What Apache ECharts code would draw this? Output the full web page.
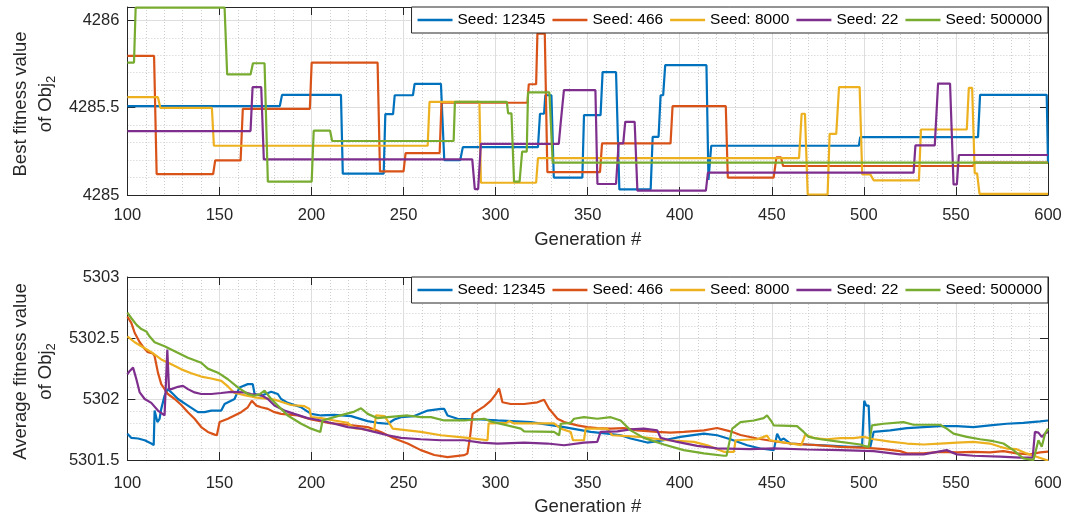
<!DOCTYPE html>
<html><head><meta charset="utf-8">
<script src="https://cdn.jsdelivr.net/npm/echarts@6/dist/echarts.min.js"></script>
<style>html,body{margin:0;padding:0;background:#fff}#c{width:1065px;height:517px}</style>
</head><body><div id="c"></div>
<script>
const seedNames = ['Seed: 12345', 'Seed: 466', 'Seed: 8000', 'Seed: 22', 'Seed: 500000'];
const genMin = 100, genMax = 600, genStep = 50;

// ---- Best fitness value of Obj2 (top panel) ----
const best12345Gen = [100,182.8,184,216,217,239.2,240.1,244.3,245.2,255.1,256,270.3,272.1,280.8,282.2,323,324.1,326.3,327,330.3,331.6,347.1,348,357,358.1,365.4,367.2,384.2,385.3,388.5,389.6,391,392.1,414.5,415.6,416.3,417.1,497.3,498,562,563.1,599.3,600];
const best12345Val = [4285.509,4285.509,4285.573,4285.573,4285.122,4285.122,4285.463,4285.463,4285.571,4285.571,4285.636,4285.636,4285.2,4285.2,4285.274,4285.274,4285.465,4285.465,4285.571,4285.571,4285.1,4285.1,4285.457,4285.457,4285.703,4285.703,4285.032,4285.032,4285.333,4285.333,4285.571,4285.571,4285.743,4285.743,4285.086,4285.086,4285.282,4285.282,4285.331,4285.331,4285.573,4285.573,4285.185];

const best466Gen = [100,114.5,115.9,146.6,147.7,161.5,162.7,199.1,200.1,235.9,237.2,250,251.1,269.6,270.6,317.3,318,322,322.7,326.7,328.1,356.7,357.8,395,396.1,425,426.1,451,452.5,455,456.1,559.2,560.5,600];
const best466Val = [4285.796,4285.796,4285.12,4285.12,4285.198,4285.198,4285.493,4285.493,4285.758,4285.758,4285.135,4285.135,4285.24,4285.24,4285.528,4285.528,4285.634,4285.634,4285.924,4285.924,4285.131,4285.131,4285.295,4285.295,4285.509,4285.509,4285.099,4285.099,4285.215,4285.215,4285.166,4285.166,4285.185,4285.185];

const best8000Gen = [100,116.6,117.9,145.9,147,263.1,264.1,291.2,292,322,323,464.8,466.2,468,469.5,480.3,481.4,485,486.5,497.7,499.1,503.5,505.3,529.9,531,555.9,557,558.8,560.2,561.5,562.8,600];
const best8000Val = [4285.56,4285.56,4285.499,4285.499,4285.282,4285.282,4285.533,4285.533,4285.07,4285.07,4285.211,4285.211,4285.465,4285.465,4285.003,4285.003,4285.35,4285.35,4285.617,4285.617,4285.118,4285.118,4285.084,4285.084,4285.375,4285.375,4285.613,4285.613,4285.124,4285.124,4285.006,4285.006];

const best22Gen = [100,166.9,168,172.7,174.1,287.3,288.7,290.5,292,334.3,335.4,336,337.1,354.2,355.3,365.4,366.8,369.3,370.4,375.5,377,414.2,415.3,527,528,538.5,540.3,546.8,548.7,550.5,551.6,600];
const best22Val = [4285.366,4285.366,4285.617,4285.617,4285.204,4285.204,4285.034,4285.034,4285.293,4285.293,4285.419,4285.419,4285.6,4285.6,4285.063,4285.063,4285.295,4285.295,4285.419,4285.419,4285.025,4285.025,4285.128,4285.128,4285.284,4285.284,4285.638,4285.638,4285.061,4285.061,4285.229,4285.229];

const best500000Gen = [100,103.6,104.5,152.8,154.2,166.9,168.2,174.5,176.3,200.1,201.2,210.1,211.2,277.2,277.9,306.1,306.8,308.6,310,313,314.4,316.9,317.6,329.2,331,600];
const best500000Val = [4285.758,4285.758,4286.072,4286.072,4285.69,4285.69,4285.754,4285.754,4285.076,4285.076,4285.368,4285.368,4285.309,4285.309,4285.533,4285.533,4285.467,4285.467,4285.076,4285.076,4285.248,4285.248,4285.587,4285.587,4285.185,4285.185];

// ---- Average fitness value of Obj2 (bottom panel) ----
const avg12345Gen = [100,102.2,105.8,109.4,113,114.3,114.8,116.3,117.5,118.4,120.2,122,124.8,127.5,132.9,138.3,141.9,145.6,151,152.8,158.2,160.9,165.4,168.1,169.1,172.7,178.1,181.7,183.5,187.1,194.4,199.8,205.2,212.4,221.5,230.5,235.9,241.4,245,248.6,255.8,263.1,270.3,272.1,273.9,279.3,292,301,319.1,337.2,351.6,360.7,367.9,373.3,382.4,391.4,400.4,413.1,420.3,427.5,436.6,443.8,451.1,452.9,454.7,456.5,460.1,469.1,483.6,492.6,499,500.2,501.3,502.6,503.5,505.3,514.3,523.4,532.4,541.4,550.5,559.5,568.5,577.6,586.6,595.7,600];
const avg12345Val = [5301.716,5301.681,5301.676,5301.662,5301.635,5301.622,5301.905,5301.811,5301.838,5301.919,5302.027,5302.081,5302.041,5302.0,5301.946,5301.892,5301.892,5301.905,5301.905,5301.959,5302.0,5302.095,5302.122,5302.122,5302.041,5302.027,5302.059,5302.041,5302.0,5301.968,5301.932,5301.878,5301.865,5301.87,5301.86,5301.819,5301.805,5301.797,5301.832,5301.851,5301.86,5301.905,5301.919,5301.919,5301.865,5301.838,5301.832,5301.824,5301.811,5301.77,5301.73,5301.716,5301.703,5301.676,5301.643,5301.662,5301.689,5301.716,5301.703,5301.67,5301.621,5301.594,5301.581,5301.716,5301.662,5301.676,5301.635,5301.627,5301.616,5301.608,5301.608,5301.986,5301.946,5301.946,5301.608,5301.73,5301.743,5301.762,5301.77,5301.778,5301.778,5301.77,5301.784,5301.797,5301.805,5301.816,5301.824];

const avg466Gen = [100,102.2,104,106.7,109.4,111.2,113.9,114.8,116.6,118.4,122,125.7,129.3,132.9,136.5,140.1,143.7,147.4,148.6,150.1,154.6,158.2,161.8,165.4,167.6,168.5,170,172.7,176.3,179.9,183.5,192.6,199.8,208.8,219.7,230.5,237.7,245,252.2,259.4,266.7,273.9,283,284.7,286.2,287.5,293.8,297.4,300.1,301.9,303.7,308.2,315.5,322.7,326.3,329,333.6,337.2,344.4,349.8,355.2,362.5,369.7,376.9,387.8,395,402.2,413.1,420.3,427.5,433,442,451.1,460.1,469.1,480,487.2,501.7,510.7,519.7,523.4,532.4,541.4,550.5,559.5,568.5,575.8,583,590.2,595.7,600];
const avg466Val = [5302.676,5302.622,5302.541,5302.465,5302.411,5302.384,5302.373,5302.351,5302.216,5302.122,5302.041,5302.0,5301.951,5301.892,5301.838,5301.77,5301.73,5301.708,5301.703,5301.811,5301.838,5301.865,5301.892,5301.932,5301.986,5302.0,5301.946,5301.932,5301.919,5301.892,5301.878,5301.865,5301.832,5301.805,5301.789,5301.77,5301.73,5301.676,5301.635,5301.581,5301.541,5301.524,5301.54,5301.554,5301.7,5301.878,5301.94,5301.986,5302.04,5302.086,5301.973,5301.959,5301.959,5301.973,5301.994,5301.92,5301.838,5301.811,5301.784,5301.77,5301.762,5301.757,5301.762,5301.743,5301.73,5301.724,5301.73,5301.743,5301.762,5301.735,5301.705,5301.676,5301.654,5301.635,5301.627,5301.616,5301.608,5301.6,5301.589,5301.573,5301.554,5301.554,5301.567,5301.562,5301.567,5301.562,5301.573,5301.554,5301.546,5301.562,5301.568];

const avg8000Gen = [100,104,107.6,113,118.4,123.9,129.3,134.7,140.1,145.6,151,154.6,158.2,160.9,163.6,169,174.5,179.9,183.5,188.9,196.2,198.9,199.8,205.2,212.4,219.7,223.3,232.3,234.1,235,239.6,242.3,244.1,252.2,259.4,270.3,284.8,295.6,296.2,306,307.3,310,331.7,335.4,340.8,342,348,348.9,360.6,363.3,378.7,393.2,407.7,415,424,429.4,430.3,442,447.4,449,460.1,466,468.2,472.7,480,487.2,494.4,499.9,505.3,514.3,523.4,532.4,541.4,550.5,559.5,568.5,574,577.6,583,588.4,593.8,600];
const avg8000Val = [5302.514,5302.465,5302.432,5302.384,5302.324,5302.284,5302.243,5302.211,5302.184,5302.168,5302.149,5302.103,5302.049,5302.041,5302.032,5302.014,5302.005,5301.995,5301.978,5301.951,5301.941,5301.919,5301.851,5301.843,5301.824,5301.805,5301.76,5301.745,5301.75,5301.865,5301.86,5301.8,5301.757,5301.743,5301.73,5301.703,5301.681,5301.662,5301.8,5301.805,5301.819,5301.8,5301.8,5301.757,5301.73,5301.662,5301.662,5301.757,5301.757,5301.703,5301.689,5301.662,5301.649,5301.62,5301.567,5301.567,5301.662,5301.67,5301.7,5301.662,5301.635,5301.622,5301.708,5301.68,5301.67,5301.68,5301.68,5301.689,5301.67,5301.65,5301.635,5301.627,5301.635,5301.643,5301.648,5301.635,5301.608,5301.594,5301.589,5301.554,5301.527,5301.495];

const avg22Gen = [100,101.3,103.1,104.9,106.7,109.4,113,116.6,120.2,121.1,121.7,122.6,123.9,127.5,130.2,132.9,136.5,140.1,145.6,151,156.4,163.6,167.2,172.7,176.3,179.9,185.3,190.7,197.9,205.2,212.4,219.7,226.9,234.1,241.4,248.6,259.4,270.3,283,292,301,315.5,328.1,337.2,348,355.2,357,366.1,373.3,380.5,387.8,389.6,398.6,409.5,420.3,438.4,451.1,469.1,487.2,505.3,519.7,532.4,545,550.5,559.5,574,584.8,591.7,592.9,594.8,596.6,598.4,600];
const avg22Val = [5302.203,5302.23,5302.257,5302.162,5302.054,5302.0,5301.968,5301.905,5301.865,5301.865,5302.405,5302.081,5302.081,5302.1,5302.108,5302.081,5302.054,5302.041,5302.041,5302.049,5302.059,5302.054,5302.041,5302.032,5302.0,5301.946,5301.905,5301.878,5301.843,5301.824,5301.797,5301.77,5301.757,5301.73,5301.703,5301.681,5301.67,5301.662,5301.662,5301.643,5301.635,5301.643,5301.635,5301.621,5301.643,5301.648,5301.73,5301.735,5301.751,5301.757,5301.743,5301.681,5301.648,5301.616,5301.595,5301.589,5301.595,5301.586,5301.581,5301.573,5301.546,5301.546,5301.581,5301.546,5301.535,5301.527,5301.519,5301.519,5301.73,5301.724,5301.689,5301.716,5301.73];

const avg500000Gen = [100,102.2,105,107.6,110.3,112,114.8,120.2,125.7,132.9,140.1,143.7,149.2,154.6,160,165.4,169,172,174.5,176,178.1,183.5,187.1,194.4,199.8,204.8,205.5,206,214.2,223.3,226.9,230.5,235.9,241.4,252.2,259.4,264.9,272.1,283,293.8,297.4,313.7,315.5,331.7,334.5,335.4,340.8,342.6,348,355.2,362.5,367.9,373.3,380.5,391.4,402.2,413.1,424,425.4,428.5,433,440.2,445.6,447.4,450.1,451,463.7,467.3,470,476.4,487.2,498.1,499.9,502.6,504.4,510.7,521.5,527,541.4,545,548.7,555.9,563.1,570.4,575.8,581.2,586.6,592.1,594.8,596.6,598.4,600];
const avg500000Val = [5302.708,5302.662,5302.608,5302.573,5302.554,5302.514,5302.465,5302.432,5302.392,5302.338,5302.297,5302.249,5302.216,5302.162,5302.095,5302.041,5302.027,5302.04,5302.068,5302.04,5302.0,5301.919,5301.865,5301.797,5301.757,5301.73,5301.73,5301.824,5301.86,5301.897,5301.924,5301.878,5301.843,5301.851,5301.865,5301.851,5301.851,5301.824,5301.824,5301.838,5301.816,5301.757,5301.735,5301.73,5301.703,5301.797,5301.805,5301.838,5301.851,5301.838,5301.851,5301.824,5301.743,5301.681,5301.627,5301.581,5301.554,5301.535,5301.535,5301.757,5301.81,5301.824,5301.843,5301.865,5301.81,5301.784,5301.778,5301.73,5301.689,5301.67,5301.648,5301.627,5301.616,5301.608,5301.784,5301.797,5301.81,5301.789,5301.789,5301.757,5301.716,5301.689,5301.67,5301.654,5301.635,5301.581,5301.513,5301.5,5301.662,5301.608,5301.716,5301.757];

const bestSeries = [[best12345Gen,best12345Val],[best466Gen,best466Val],[best8000Gen,best8000Val],[best22Gen,best22Val],[best500000Gen,best500000Val]];
const avgSeries = [[avg12345Gen,avg12345Val],[avg466Gen,avg466Val],[avg8000Gen,avg8000Val],[avg22Gen,avg22Val],[avg500000Gen,avg500000Val]];

const COLORS = ['#0072BD','#D95319','#EDB120','#7E2F8E','#77AC30'];
const FONT = '"Liberation Sans", Arial, Helvetica, sans-serif';
const AX = '#262626';
const zip = (g, v) => g.map((x, i) => [x, v[i]]);
const fmt = v => String(Math.round(v * 1000) / 1000);

const panels = [
  {top: 7, height: 188, ymin: 4285, ymax: 4286.076, yint: 0.5, xMargin: 12, xNameGap: 35,
   yname: 'Best fitness value\nof Obj{s|2}', data: bestSeries},
  {top: 277, height: 185, ymin: 5301.5, ymax: 5303, yint: 0.5, xMargin: 15, xNameGap: 37,
   yname: 'Average fitness value\nof Obj{s|2}', data: avgSeries}
];

const grid = [], xAxis = [], yAxis = [], series = [], legend = [];
panels.forEach((p, gi) => {
  grid.push({left: 126, right: 17, top: p.top, height: p.height, containLabel: false});
  xAxis.push({type: 'value', gridIndex: gi, min: genMin, max: genMax, interval: genStep, position: 'bottom', z: 3,
    axisLine: {show: true, onZero: false, lineStyle: {color: AX, width: 1}},
    axisTick: {show: true, inside: true, length: 8, lineStyle: {color: AX}},
    axisLabel: {fontSize: 16.5, color: AX, margin: p.xMargin, fontFamily: FONT, formatter: fmt},
    splitLine: {show: true, lineStyle: {color: '#dedede', width: 1}},
    name: 'Generation #', nameLocation: 'middle', nameGap: p.xNameGap,
    nameTextStyle: {fontSize: 18.5, color: AX, fontFamily: FONT}});
  xAxis.push({type: 'value', gridIndex: gi, min: genMin, max: genMax, interval: 10, position: 'bottom', z: 1,
    axisLine: {show: false}, axisTick: {show: false}, axisLabel: {show: false},
    splitLine: {show: true, lineStyle: {color: '#cdcdcd', width: 1, type: [1, 2]}}});
  xAxis.push({type: 'value', gridIndex: gi, min: genMin, max: genMax, interval: genStep, position: 'top', z: 3,
    axisLine: {show: true, onZero: false, lineStyle: {color: AX, width: 1}},
    axisTick: {show: true, inside: true, length: 8, lineStyle: {color: AX}},
    axisLabel: {show: false}, splitLine: {show: false}});
  yAxis.push({type: 'value', gridIndex: gi, min: p.ymin, max: p.ymax, interval: p.yint, position: 'left', z: 3,
    axisLine: {show: true, onZero: false, lineStyle: {color: AX, width: 1}},
    axisTick: {show: true, inside: true, length: 8, lineStyle: {color: AX}},
    axisLabel: {fontSize: 16.5, color: AX, margin: 8, fontFamily: FONT, showMaxLabel: gi === 1, formatter: fmt},
    splitLine: {show: true, lineStyle: {color: '#dedede', width: 1}},
    name: p.yname, nameLocation: 'middle', nameGap: 64,
    nameTextStyle: {fontSize: 18.5, color: AX, fontFamily: FONT, lineHeight: 25, padding: [0, 6, 0, 0],
      rich: {s: {fontSize: 13, fontFamily: FONT, color: AX, lineHeight: 13, padding: [10, 0, 0, 0], verticalAlign: 'bottom'}}}});
  yAxis.push({type: 'value', gridIndex: gi, min: p.ymin, max: p.ymax, interval: 0.1, position: 'left', z: 1,
    axisLine: {show: false}, axisTick: {show: false}, axisLabel: {show: false},
    splitLine: {show: true, lineStyle: {color: '#cdcdcd', width: 1, type: [1, 2]}}});
  yAxis.push({type: 'value', gridIndex: gi, min: p.ymin, max: p.ymax, interval: p.yint, position: 'right', z: 3,
    axisLine: {show: true, onZero: false, lineStyle: {color: AX, width: 1}},
    axisTick: {show: true, inside: true, length: 8, lineStyle: {color: AX}},
    axisLabel: {show: false}, splitLine: {show: false}});
  p.data.forEach((d, si) => {
    series.push({type: 'line', name: seedNames[si], xAxisIndex: gi * 3, yAxisIndex: gi * 3,
      data: zip(d[0], d[1]), showSymbol: false, symbol: 'none', clip: true,
      lineStyle: {color: COLORS[si], width: 2.2}, itemStyle: {color: COLORS[si]}, z: 5});
  });
  legend.push({data: seedNames, right: 17, top: p.top, orient: 'horizontal', itemGap: 7, itemWidth: 35, itemHeight: 2.5,
    icon: 'rect', padding: [5, 6, 5, 6], backgroundColor: '#fff', borderColor: AX, borderWidth: 1, z: 10,
    textStyle: {fontSize: 15.5, color: '#000', fontFamily: FONT}});
});

const chart = echarts.init(document.getElementById('c'), null, {renderer: 'canvas'});
chart.setOption({animation: false, backgroundColor: '#fff', textStyle: {fontFamily: FONT}, grid, xAxis, yAxis, series, legend});
</script>
</body></html>
